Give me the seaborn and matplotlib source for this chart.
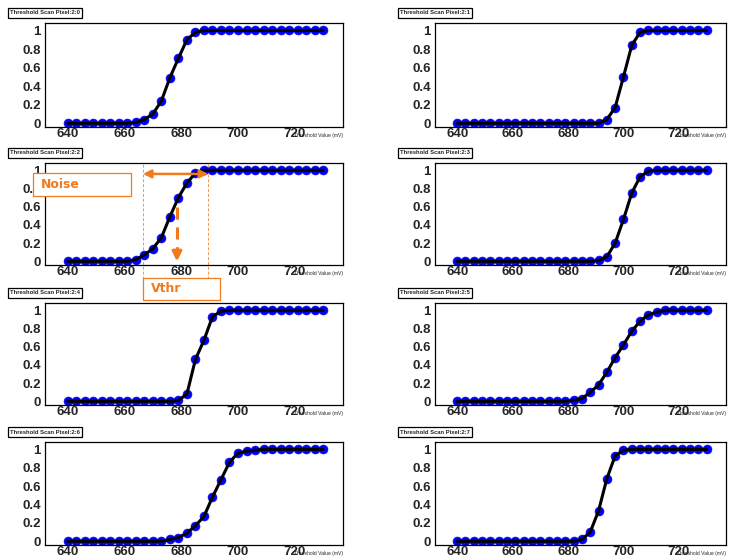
import matplotlib
matplotlib.use("Agg")
import matplotlib.pyplot as plt
from matplotlib.patches import Rectangle
from matplotlib.ticker import MultipleLocator
import seaborn as sns
import pandas as pd

# threshold scan points (mV)
X_MV = [640, 643, 646, 649, 652, 655, 658, 661, 664, 667, 670, 673, 676, 679, 682, 685,
        688, 691, 694, 697, 700, 703, 706, 709, 712, 715, 718, 721, 724, 727, 730]

# efficiency per pixel
P20 = [0, 0, 0, 0, 0, 0, 0, 0, 0.01, 0.04, 0.10, 0.24, 0.49, 0.70, 0.90, 0.98,
       1, 1, 1, 1, 1, 1, 1, 1, 1, 1, 1, 1, 1, 1, 1]
P21 = [0, 0, 0, 0, 0, 0, 0, 0, 0, 0, 0, 0, 0, 0, 0, 0,
       0, 0, 0.04, 0.17, 0.50, 0.84, 0.98, 1, 1, 1, 1, 1, 1, 1, 1]
P22 = [0, 0, 0, 0, 0, 0, 0, 0, 0.02, 0.07, 0.14, 0.26, 0.49, 0.70, 0.86, 0.97,
       1, 1, 1, 1, 1, 1, 1, 1, 1, 1, 1, 1, 1, 1, 1]
P23 = [0, 0, 0, 0, 0, 0, 0, 0, 0, 0, 0, 0, 0, 0, 0, 0,
       0, 0.01, 0.05, 0.20, 0.46, 0.75, 0.93, 0.99, 1, 1, 1, 1, 1, 1, 1]
P24 = [0, 0, 0, 0, 0, 0, 0, 0, 0, 0, 0, 0, 0, 0.01, 0.08, 0.46,
       0.67, 0.93, 0.99, 1, 1, 1, 1, 1, 1, 1, 1, 1, 1, 1, 1]
P25 = [0, 0, 0, 0, 0, 0, 0, 0, 0, 0, 0, 0, 0, 0, 0.01, 0.03,
       0.10, 0.18, 0.32, 0.48, 0.62, 0.77, 0.88, 0.95, 0.98, 1, 1, 1, 1, 1, 1]
P26 = [0, 0, 0, 0, 0, 0, 0, 0, 0, 0, 0, 0, 0.02, 0.04, 0.09, 0.17,
       0.27, 0.48, 0.67, 0.86, 0.96, 0.98, 0.99, 1, 1, 1, 1, 1, 1, 1, 1]
P27 = [0, 0, 0, 0, 0, 0, 0, 0, 0, 0, 0, 0, 0, 0, 0, 0.02,
       0.10, 0.33, 0.68, 0.93, 0.99, 1, 1, 1, 1, 1, 1, 1, 1, 1, 1]

PIXELS = ["2:0", "2:1", "2:2", "2:3", "2:4", "2:5", "2:6", "2:7"]
SERIES = [P20, P21, P22, P23, P24, P25, P26, P27]

# annotation on pixel 2:2
NOISE_LO, NOISE_HI, VTHR = 666.5, 689.5, 678.5
ORANGE = "#f07a1e"

W, H = 730, 558
sns.set_style("white")
plt.rcParams["font.family"] = ["Liberation Sans", "DejaVu Sans"]

fig = plt.figure(figsize=(W / 100, H / 100), dpi=100)


def fr(x0, y0, x1, y1):
    # pixel box -> figure fraction rect
    return [x0 / W, 1 - y1 / H, (x1 - x0) / W, (y1 - y0) / H]


rows = [(23, 127), (163, 265), (303, 405), (442, 545)]
cols = [(45, 343), (435, 726)]
title_x = [10, 400]

axes = []
for i, (name, vals) in enumerate(zip(PIXELS, SERIES)):
    r, c = divmod(i, 2)
    top, bot = rows[r]
    ax = fig.add_axes(fr(cols[c][0], top, cols[c][1], bot))
    df = pd.DataFrame({"x": X_MV, "eff": vals})
    sns.scatterplot(data=df, x="x", y="eff", ax=ax, color="#0000ff", s=42,
                    edgecolor="#1010ee", linewidth=0.4, zorder=2)
    sns.lineplot(data=df, x="x", y="eff", ax=ax, color="black", lw=2.2, zorder=3)
    ax.set_xlim(632, 737)
    ax.set_ylim(-0.04, 1.08)
    ax.xaxis.set_major_locator(MultipleLocator(20))
    ax.xaxis.set_minor_locator(MultipleLocator(4))
    ax.yaxis.set_major_locator(MultipleLocator(0.2))
    ax.yaxis.set_minor_locator(MultipleLocator(0.05))
    ax.set_yticks([0, 0.2, 0.4, 0.6, 0.8, 1.0])
    ax.set_yticklabels(["0", "0.2", "0.4", "0.6", "0.8", "1"])
    ax.tick_params(which="both", direction="in", top=False, right=False)
    ax.tick_params(axis="both", which="major", labelsize=9.5, width=0.8)
    ax.tick_params(axis="y", which="major", length=6, pad=3)
    ax.tick_params(axis="y", which="minor", length=3.5, width=0.7)
    ax.tick_params(axis="x", which="major", length=4, pad=1.0)
    ax.tick_params(axis="x", which="minor", length=2, width=0.6)
    for lab in ax.get_xticklabels() + ax.get_yticklabels():
        lab.set_fontweight("bold")
    for sp in ax.spines.values():
        sp.set_linewidth(0.9)
        sp.set_color("black")
    ax.set_xlabel("")
    ax.set_ylabel("")
    ax.text(1.0, -0.055, "Threshold Value (mV)", transform=ax.transAxes,
            ha="right", va="top", fontsize=3.6, clip_on=False)
    fig.text((title_x[c]) / W, 1 - (top - 10) / H,
             "Threshold Scan Pixel:" + name, fontsize=4.2, fontweight="bold",
             va="center", ha="left",
             bbox=dict(boxstyle="square,pad=0.35", fc="white", ec="black", lw=0.9))
    axes.append(ax)

# noise / threshold sketch on pixel 2:2
ax = axes[2]
for xv in (NOISE_LO, NOISE_HI):
    ax.axvline(xv, ymin=-0.14, ymax=1.0, color=ORANGE, lw=0.7, ls=(0, (3, 2)),
               alpha=0.8, clip_on=False, zorder=1)
ax.annotate("", xy=(NOISE_LO, 0.96), xytext=(NOISE_HI, 0.96),
            arrowprops=dict(arrowstyle="<|-|>", color=ORANGE, lw=1.8,
                            mutation_scale=12, shrinkA=0, shrinkB=0), zorder=4)
ax.plot([VTHR, VTHR], [0.60, 0.10], color=ORANGE, lw=2.2, ls=(0, (4, 2.5)), zorder=4)
ax.annotate("", xy=(VTHR, 0.0), xytext=(VTHR, 0.13),
            arrowprops=dict(arrowstyle="-|>", color=ORANGE, lw=2.2,
                            mutation_scale=14, shrinkA=0, shrinkB=0), zorder=4)

for (x0, y0, x1, y1), txt in [((33, 173, 131, 196), "Noise"),
                              ((143, 278, 220, 300), "Vthr")]:
    fig.add_artist(Rectangle((x0 / W, 1 - y1 / H), (x1 - x0) / W, (y1 - y0) / H,
                             transform=fig.transFigure, fc="white", ec=ORANGE,
                             lw=0.9, zorder=5))
    fig.text((x0 + 8) / W, 1 - (y0 + y1) / 2 / H, txt, color=ORANGE,
             fontsize=9, fontweight="bold", va="center", ha="left", zorder=6,
             family=["DejaVu Sans"])

fig.savefig("out.png", dpi=100)
